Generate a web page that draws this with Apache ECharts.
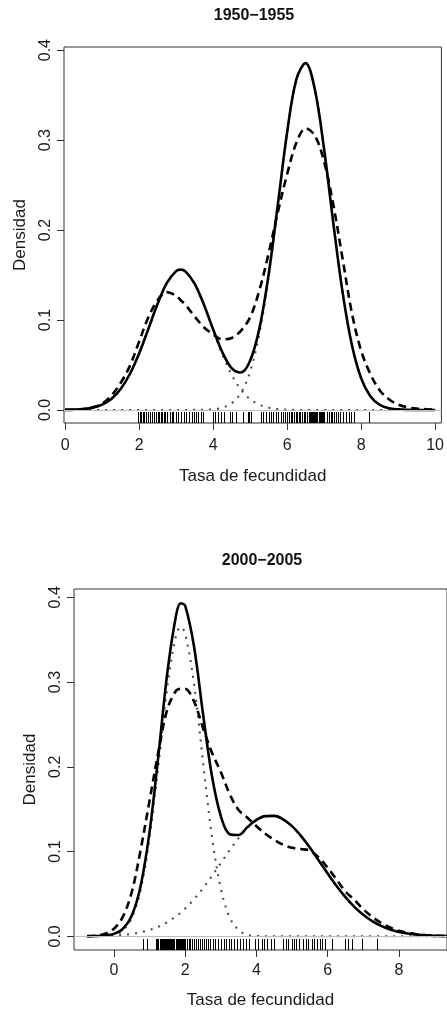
<!DOCTYPE html>
<html><head><meta charset="utf-8">
<script src="https://cdn.jsdelivr.net/npm/echarts@6/dist/echarts.min.js"></script>
<style>html,body{margin:0;padding:0;background:#fff}#c{width:447px;height:1010px}</style>
</head><body><div id="c"></div>
<script>
// ---------- data ----------
const titles = ['1950\u22121955', '2000\u22122005'];
const xName = 'Tasa de fecundidad';
const yName = 'Densidad';
const xTicks1 = [0, 2, 4, 6, 8, 10];
const xTicks2 = [0, 2, 4, 6, 8];
const yTicks = [0, 0.1, 0.2, 0.3, 0.4];

// 1950-1955
const xs1 = [0,0.25,0.5,0.75,1,1.25,1.5,1.75,2,2.25,2.5,2.75,3,3.125,3.25,3.5,3.75,4,4.25,4.5,4.75,5,5.25,5.5,5.75,6,6.25,6.5,6.75,7,7.25,7.5,7.75,8,8.25,8.5,8.75,9,9.25,9.5,9.75,10];
const mix1 = [0.0001,0.0004,0.0011,0.0026,0.0060,0.0123,0.0232,0.0400,0.0628,0.0901,0.1180,0.1412,0.1544,0.1560,0.1541,0.1405,0.1172,0.0897,0.0642,0.0466,0.0416,0.0546,0.0904,0.1504,0.2285,0.3085,0.3675,0.3856,0.3563,0.2898,0.2075,0.1307,0.0725,0.0354,0.0152,0.0058,0.0019,0.0006,0.0001,0,0,0];
const kde1 = [0.0002,0.0004,0.001,0.003,0.007,0.016,0.030,0.049,0.076,0.103,0.122,0.131,0.127,0.122,0.117,0.104,0.092,0.084,0.0785,0.080,0.088,0.103,0.133,0.174,0.220,0.262,0.297,0.313,0.305,0.276,0.228,0.168,0.108,0.066,0.040,0.022,0.012,0.006,0.003,0.0015,0.0008,0.0005];
const compA1 = [0.0001,0.0004,0.0011,0.0026,0.0060,0.0123,0.0232,0.0400,0.0628,0.0901,0.1180,0.1412,0.1544,0.1560,0.1541,0.1405,0.1170,0.0889,0.0617,0.0392,0.0227,0.0120,0.0058,0.0026,0.0010,0.0004,0.0001,0,0,0,0,0,0,0,0,0,0,0,0,0,0,0];
const compB1 = [0,0,0,0,0,0,0,0,0,0,0,0,0,0,0,0.0001,0.0002,0.0008,0.0025,0.0074,0.0189,0.0426,0.0846,0.1478,0.2275,0.3081,0.3674,0.3856,0.3563,0.2898,0.2075,0.1307,0.0725,0.0354,0.0152,0.0058,0.0019,0.0006,0.0001,0,0,0];
const rug1 = [1.98,2.02,2.06,2.1,2.14,2.19,2.23,2.3,2.36,2.4,2.45,2.5,2.54,2.58,2.62,2.66,2.71,2.76,2.83,2.88,2.92,2.99,3.05,3.12,3.2,3.26,3.36,3.44,3.48,3.55,3.6,3.68,3.72,4.0,4.06,4.12,4.2,4.3,4.45,4.52,4.62,4.82,4.93,4.97,5.02,5.3,5.36,5.44,5.5,5.56,5.62,5.7,5.76,5.84,5.9,5.95,6.0,6.05,6.1,6.14,6.18,6.23,6.28,6.32,6.36,6.4,6.45,6.49,6.53,6.58,6.62,6.65,6.68,6.7,6.72,6.75,6.77,6.8,6.82,6.85,6.87,6.9,6.92,6.95,6.98,7.0,7.08,7.13,7.18,7.22,7.27,7.33,7.38,7.42,7.5,7.58,7.66,7.72,7.8,8.21];

// 2000-2005
const xs2 = [-0.75,-0.5,-0.25,0,0.25,0.5,0.75,1,1.25,1.5,1.75,1.875,2,2.25,2.5,2.75,3,3.25,3.5,3.75,4,4.25,4.5,4.75,5,5.25,5.5,5.75,6,6.25,6.5,6.75,7,7.25,7.5,7.75,8,8.25,8.5,8.75,9,9.25,9.5];
const mix2 = [0.0002,0.0004,0.0010,0.0029,0.0088,0.0244,0.0595,0.1230,0.2136,0.3112,0.3798,0.3930,0.3901,0.3416,0.2629,0.1897,0.1420,0.1205,0.1195,0.1290,0.1373,0.1418,0.1421,0.1381,0.1300,0.1185,0.1047,0.0895,0.0742,0.0595,0.0463,0.0348,0.0254,0.0179,0.0123,0.0081,0.0052,0.0033,0.0020,0.0011,0.0006,0.0004,0.0002];
const kde2 = [0.0003,0.0009,0.003,0.009,0.023,0.052,0.102,0.160,0.218,0.268,0.290,0.292,0.292,0.277,0.246,0.217,0.194,0.168,0.149,0.140,0.130,0.121,0.114,0.108,0.1045,0.103,0.101,0.093,0.081,0.067,0.053,0.043,0.032,0.023,0.016,0.0106,0.0065,0.004,0.0025,0.0015,0.001,0.0006,0.0004];
const compA2 = [0,0.0001,0.0004,0.0019,0.0070,0.0215,0.0547,0.1155,0.2023,0.2945,0.3560,0.3650,0.3573,0.2978,0.2062,0.1185,0.0566,0.0224,0.0074,0.0020,0.0005,0.0001,0,0,0,0,0,0,0,0,0,0,0,0,0,0,0,0,0,0,0,0,0];
const compB2 = [0.0002,0.0003,0.0006,0.0010,0.0018,0.0029,0.0048,0.0075,0.0113,0.0167,0.0238,0.0280,0.0328,0.0438,0.0567,0.0712,0.0864,0.1017,0.1159,0.1279,0.1368,0.1417,0.1421,0.1381,0.1300,0.1185,0.1047,0.0895,0.0742,0.0595,0.0463,0.0348,0.0254,0.0179,0.0123,0.0081,0.0052,0.0033,0.0020,0.0011,0.0006,0.0004,0.0002];
const rug2 = [0.82,0.94,1.18,1.22,1.25,1.28,1.3,1.33,1.35,1.38,1.4,1.43,1.45,1.48,1.5,1.52,1.55,1.58,1.6,1.63,1.65,1.68,1.7,1.73,1.76,1.79,1.82,1.85,1.88,1.91,1.94,1.97,2.0,2.05,2.1,2.15,2.2,2.26,2.3,2.35,2.42,2.47,2.52,2.58,2.65,2.7,2.78,2.85,2.92,3.0,3.08,3.15,3.22,3.3,3.38,3.45,3.55,3.62,3.7,3.8,3.97,4.05,4.15,4.22,4.3,4.42,4.5,4.75,4.82,4.9,5.0,5.05,5.12,5.2,5.3,5.38,5.45,5.55,5.62,5.7,5.78,5.85,5.93,6.13,6.5,6.58,6.68,6.96,7.38];

// ---------- chart ----------
const FONT = '"Liberation Sans", Arial, sans-serif';
const TXT = '#1a1a1a';
const panels = [
  {xs: xs1, mix: mix1, kde: kde1, a: compA1, b: compB1, rug: rug1, xTicks: xTicks1,
   xmin: -0.03, xmax: 10.17, ymin: -0.0145, ymax: 0.4035,
   grid: {left: 64, top: 47, right: 4, bottom: 587}, labMargin: 15, nameGap: 45, rugLen: 11},
  {xs: xs2, mix: mix2, kde: kde2, a: compA2, b: compB2, rug: rug2, xTicks: xTicks2,
   xmin: -1.12, xmax: 9.35, ymin: -0.0161, ymax: 0.4098,
   grid: {left: 74, top: 589, right: -4, bottom: 59}, labMargin: 13, nameGap: 42, rugLen: 11}
];
const pairs = (xs, ys) => xs.map((x, i) => [x, ys[i]]);

const grids = [], xAxes = [], yAxes = [], series = [];
panels.forEach((p, i) => {
  grids.push(Object.assign({show: true, borderColor: '#333', borderWidth: 1, backgroundColor: 'transparent', containLabel: false}, p.grid));
  xAxes.push({
    type: 'value', gridIndex: i, min: p.xmin, max: p.xmax,
    axisLine: {show: false, onZero: false},
    splitLine: {show: false},
    axisTick: {show: true, length: 7, customValues: p.xTicks, lineStyle: {color: '#333', width: 1}},
    axisLabel: {customValues: p.xTicks, margin: p.labMargin, fontSize: 16, color: TXT, fontFamily: FONT},
    name: xName, nameLocation: 'middle', nameGap: p.nameGap,
    nameTextStyle: {fontSize: 17, color: TXT, fontFamily: FONT}
  });
  yAxes.push({
    type: 'value', gridIndex: i, min: p.ymin, max: p.ymax,
    axisLine: {show: false, onZero: false},
    splitLine: {show: false},
    axisTick: {show: true, length: 7, customValues: yTicks, lineStyle: {color: '#333', width: 1}},
    axisLabel: {customValues: yTicks, rotate: 90, margin: 10, fontSize: 16, color: TXT, fontFamily: FONT,
      formatter: v => Number(v).toFixed(1)},
    name: yName, nameLocation: 'middle', nameGap: 35,
    nameTextStyle: {fontSize: 17, color: TXT, fontFamily: FONT}
  });
  const base = {type: 'line', xAxisIndex: i, yAxisIndex: i, showSymbol: false, symbol: 'none', smooth: 0.35, silent: true, animation: false};
  const dotStyle = {color: '#444', width: 2, type: [2, 6]};
  series.push(Object.assign({}, base, {
    data: pairs(p.xs, p.a), lineStyle: dotStyle,
    markLine: {silent: true, symbol: 'none', label: {show: false}, animation: false,
      lineStyle: {color: '#bdbdbd', width: 1, type: 'solid'}, data: [{yAxis: 0}]}
  }));
  series.push(Object.assign({}, base, {data: pairs(p.xs, p.b), lineStyle: dotStyle}));
  series.push(Object.assign({}, base, {data: pairs(p.xs, p.kde), lineStyle: {color: '#000', width: 2.6, type: [8, 5]}}));
  series.push(Object.assign({}, base, {data: pairs(p.xs, p.mix), lineStyle: {color: '#000', width: 2.6, type: 'solid'}}));
  series.push({
    type: 'custom', xAxisIndex: i, yAxisIndex: i, silent: true, animation: false, clip: false,
    data: p.rug.map(v => [v]), encode: {x: 0},
    renderItem: (params, api) => {
      const c = api.coord([api.value(0), p.ymin]);
      const x = Math.round(c[0]) + 0.5;
      return {type: 'line', shape: {x1: x, y1: c[1], x2: x, y2: c[1] - p.rugLen},
        style: {stroke: '#000', lineWidth: 1}};
    }
  });
});

const chart = echarts.init(document.getElementById('c'), null, {renderer: 'canvas'});
chart.setOption({
  animation: false,
  backgroundColor: '#fff',
  grid: grids, xAxis: xAxes, yAxis: yAxes, series: series,
  graphic: [
    {type: 'text', x: 254, y: 16, style: {text: titles[0], font: 'bold 16px ' + FONT, fill: '#111', align: 'center', verticalAlign: 'middle'}},
    {type: 'text', x: 262, y: 561, style: {text: titles[1], font: 'bold 16px ' + FONT, fill: '#111', align: 'center', verticalAlign: 'middle'}}
  ]
});
</script></body></html>
